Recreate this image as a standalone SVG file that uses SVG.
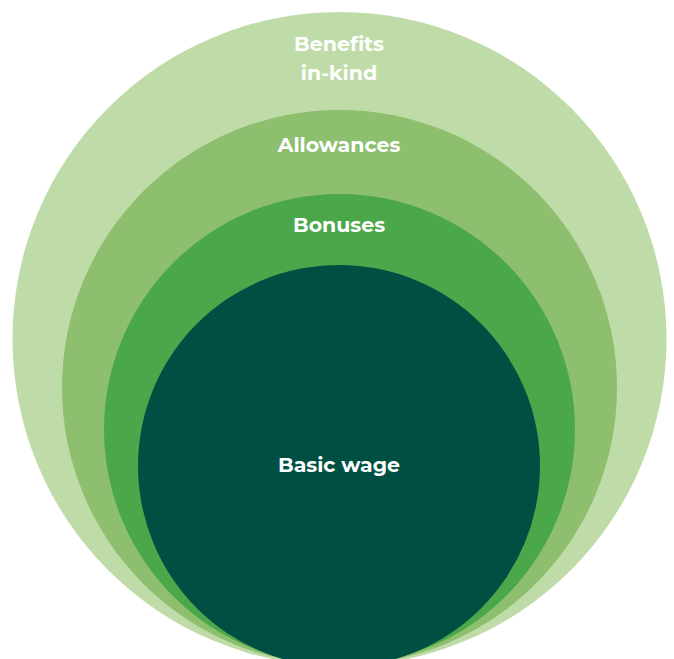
<svg xmlns="http://www.w3.org/2000/svg" width="674" height="659" viewBox="0 0 674 659">
<style>
.lbl{font-family:"Montserrat","Open Sans","Liberation Sans",sans-serif;font-weight:700;font-size:20.5px;fill:#ffffff;text-anchor:middle}
</style>
<rect width="674" height="659" fill="#ffffff"/>
<g id="benefits"><circle cx="339.5" cy="339" r="327" fill="#bfdca8"/>
<text class="lbl" x="339" y="51">Benefits</text><text class="lbl" x="339" y="80">in-kind</text></g>
<g id="allowances"><circle cx="339.5" cy="387.5" r="277.5" fill="#8dbf6f"/>
<text class="lbl" x="339" y="152">Allowances</text></g>
<g id="bonuses"><circle cx="339.5" cy="429.5" r="235.5" fill="#4aa84a"/>
<text class="lbl" x="339" y="232">Bonuses</text></g>
<g id="basic"><circle cx="339" cy="466" r="201" fill="#004f43"/>
<text class="lbl" x="339" y="472">Basic wage</text></g>
<g id="connectors"/>
</svg>
